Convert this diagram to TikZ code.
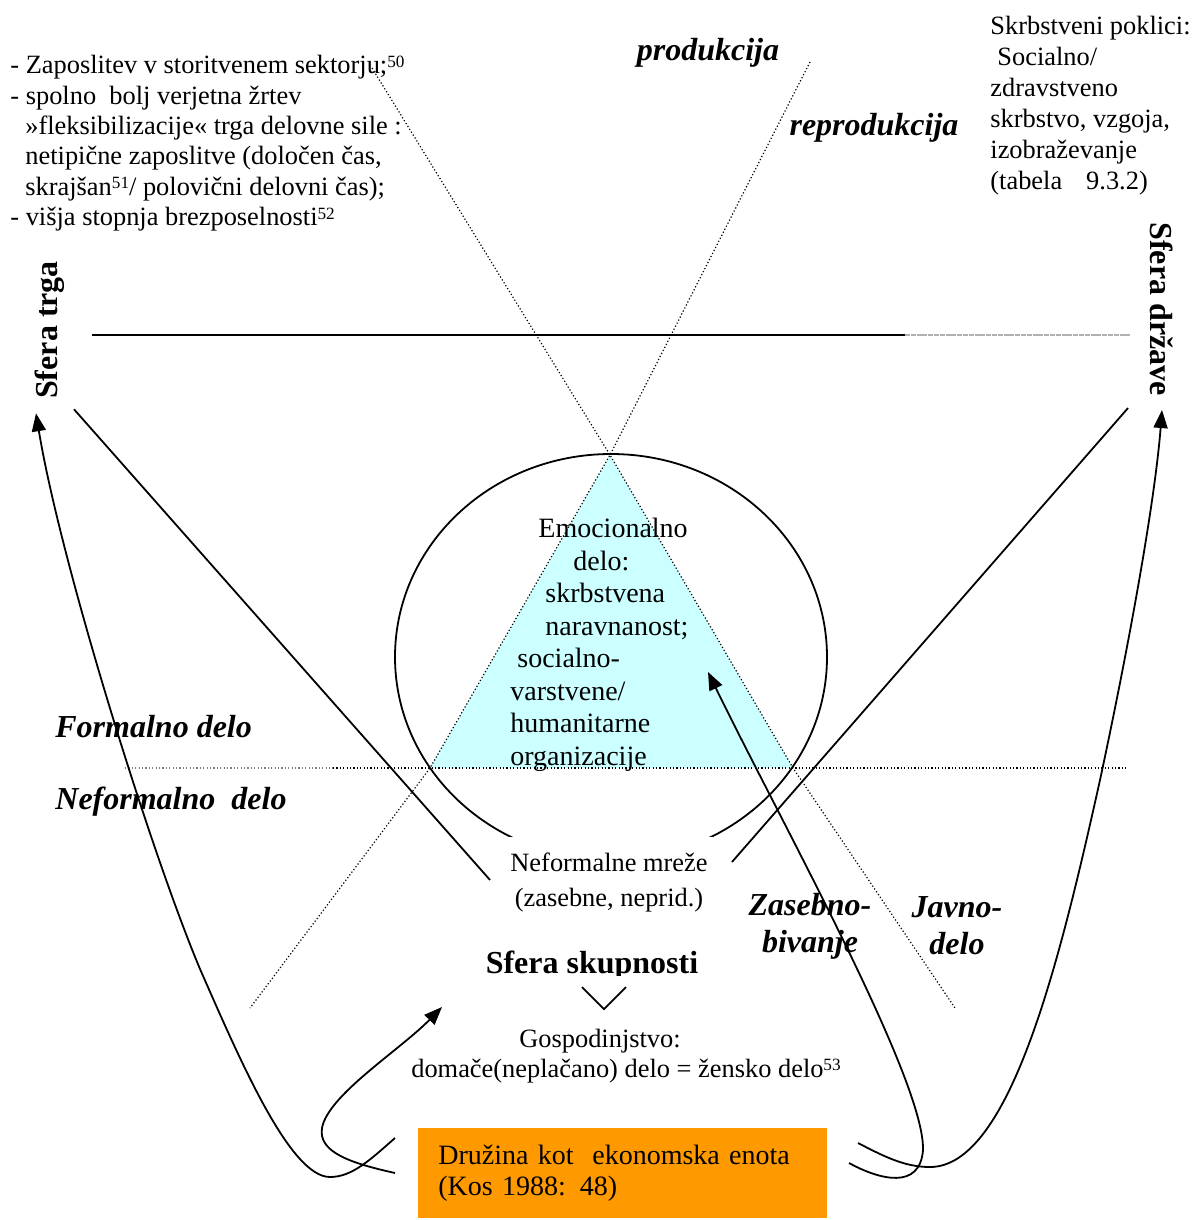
\documentclass[tikz,border=0pt]{standalone}
\usepackage{fontspec}
\setmainfont{Liberation Serif}
\usetikzlibrary{arrows.meta}

\newcommand{\supnum}[1]{\raisebox{0.55ex}{\fontsize{8.6}{9}\selectfont #1}}

\tikzset{
    txt/.style={inner sep=0pt, align=left, font=\fontsize{13.2}{15.2}\selectfont},
    tritxt/.style={inner sep=0pt, align=left, font=\fontsize{14}{16.25}\selectfont},
    lbl/.style={inner sep=0pt, align=center, font=\fontsize{16}{18.5}\selectfont\bfseries\itshape},
    sphere/.style={inner sep=0pt, font=\fontsize{16}{19}\selectfont\bfseries},
    dots/.style={line width=0.6pt, dash pattern=on 0.6pt off 1.1pt},
    plain/.style={line width=0.9pt},
    arr/.style={line width=0.9pt, -{Triangle[length=9pt,width=7pt]}}
}

\begin{document}
\begin{tikzpicture}[x=0.5pt, y=-0.5pt]
    \definecolor{tri_cyan}{HTML}{CCFFFF}
    \definecolor{box_orange}{HTML}{FF9900}
    \useasboundingbox (0,0) rectangle (1194,1220);

    % emotional work triangle
    \fill[tri_cyan] (610,455) -- (430,768) -- (793,768) -- cycle;

    % dotted axes
    \draw[dots] (372,68) -- (610,455) -- (793,768) -- (955,1008);
    \draw[dots] (810,62) -- (610,455) -- (430,768) -- (250,1008);
    \draw[dots, gray] (125,768) -- (333,768);
    \draw[dots] (333,768) -- (1128,768);

    % border market / state
    \draw[plain] (92,335) -- (905,335);
    \draw[gray!60, line width=0.9pt, dash pattern=on 2.5pt off 0.4pt] (905,335) -- (1130,335);

    % open circle
    \begin{scope}
        \clip (370,430) rectangle (850,836);
        \draw[plain] (611,657) ellipse [x radius=108pt, y radius=101.5pt];
    \end{scope}

    \node[txt, anchor=north west] (market) at (10,55) {- Zaposlitev v storitvenem sektorju;\supnum{50}\\
        - spolno\ \ bolj verjetna žrtev\\
        \hspace*{7.5pt}»fleksibilizacije« trga delovne sile :\\
        \hspace*{7.5pt}netipične zaposlitve (določen čas,\\
        \hspace*{7.5pt}skrajšan\supnum{51}/ polovični delovni čas);\\
        - višja stopnja brezposelnosti\supnum{52}};
    \node[txt, anchor=north west, font=\fontsize{13.2}{15.5}\selectfont] (care) at (990,16) {Skrbstveni poklici:\\
        \hspace*{3.5pt}Socialno/\\
        zdravstveno\\
        skrbstvo, vzgoja,\\
        izobraževanje\\
        (tabela\hspace{12pt}9.3.2)};

    \node[lbl] (prod) at (708,53) {produkcija};
    \node[lbl] (reprod) at (874,128) {reprodukcija};

    \node[sphere, rotate=90] (trga) at (50,330) {Sfera trga};
    \node[sphere, rotate=-90] (drzave) at (1162,309) {Sfera države};

    \node[lbl, anchor=west] (formal) at (55,727) {Formalno delo};
    \node[lbl, anchor=west] (informal) at (55,802) {Neformalno\ \ delo};

    \node[tritxt, anchor=north west] (emo) at (510,518) {\hspace*{14pt}Emocionalno\\
        \hspace*{31.5pt}delo:\\
        \hspace*{17.5pt}skrbstvena\\
        \hspace*{17.5pt}naravnanost;\\
        \hspace*{3.5pt}socialno-\\
        varstvene/\\
        humanitarne\\
        organizacije};

    \node[txt, align=center, font=\fontsize{13.2}{17.5}\selectfont] (network) at (609,883) {Neformalne mreže\\(zasebne, neprid.)};
    \begin{scope}
        \clip (460,930) rectangle (730,975);
        \node[sphere] (community) at (592,966) {Sfera skupnosti};
    \end{scope}
    \node[txt, align=center, font=\fontsize{13.2}{15}\selectfont] (household) at (626,1056) {Gospodinjstvo:\hspace*{26pt}\\
        domače(neplačano) delo = žensko delo\supnum{53}};

    \node[lbl] (private) at (810,926) {Zasebno-\\bivanje};
    \node[lbl] (public) at (957,926) {Javno-\\delo};

    \node[fill=box_orange, anchor=north west, minimum width=204.5pt, minimum height=45pt,
        text width=184.5pt, inner xsep=10pt, inner ysep=0pt, align=left,
        font=\fontsize{14}{15.5}\selectfont] (family) at (418,1128) {Družina kot\ \ ekonomska enota\\(Kos 1988: 48)};

    % sphere borders
    \draw[plain] ([xshift=12pt,yshift=-5pt]trga.west) -- ([xshift=-10pt,yshift=1.5pt]network.west);
    \draw[plain] ([xshift=-17pt,yshift=-6pt]drzave.east) -- ([xshift=12pt,yshift=10.5pt]network.east);
    \draw[plain] ([xshift=-5pt,yshift=-3pt]community.south) -- ([xshift=6pt,yshift=-14pt]community.south)
        -- ([xshift=17pt,yshift=-3pt]community.south);

    % flows from the family
    \coordinate (famL1) at (395,1138);
    \coordinate (famL2) at (395,1173);
    \coordinate (famR1) at (858,1143);
    \coordinate (famR2) at (849,1163);
    \coordinate (emoTip) at (708,672);
    \coordinate (commTip) at (442,1007);

    \draw[arr] (famL1) .. controls (370,1160) and (352,1177) .. (330,1177)
        .. controls (290,1177) and (240,1060) .. (200,969)
        .. controls (150,850) and (60,560) .. ([xshift=-7pt,yshift=-7pt]trga.west);
    \draw[arr] (famL2) .. controls (350,1163) and (318,1152) .. (322,1128)
        .. controls (328,1095) and (400,1050) .. (commTip);
    \draw[arr] (famR2) .. controls (880,1180) and (920,1190) .. (923,1150)
        .. controls (925,1080) and (780,820) .. (emoTip);
    \draw[arr] (famR1) .. controls (885,1157) and (905,1167) .. (930,1167)
        .. controls (1010,1167) and (1060,960) .. (1100,780)
        .. controls (1130,640) and (1155,500) .. ([yshift=-7pt]drzave.east);
\end{tikzpicture}
\end{document}
